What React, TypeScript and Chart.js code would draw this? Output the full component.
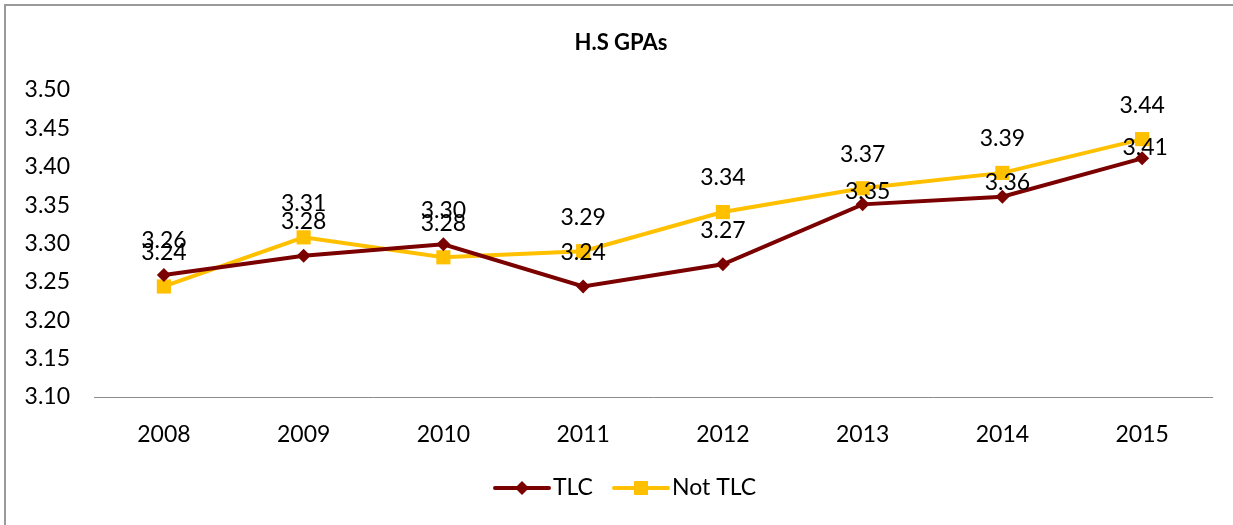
import React, { useEffect, useRef } from "react";
import { Chart, registerables } from "chart.js";

Chart.register(...registerables);

const categories = ["2008", "2009", "2010", "2011", "2012", "2013", "2014", "2015"];
const tlcValues = [3.259, 3.284, 3.299, 3.244, 3.273, 3.351, 3.361, 3.411];
const notTlcValues = [3.244, 3.308, 3.282, 3.29, 3.341, 3.372, 3.392, 3.436];
const seriesNames = ["TLC", "Not TLC"];
const titleText = "H.S GPAs";

const FONT = "Lato, 'Open Sans', sans-serif";
const TLC_COLOR = "#7B0000";
const NOT_COLOR = "#FFC000";

// label placement tweaks (dataset index -> point index -> [dx, dy])
const LABEL_ADJUST: Record<number, Record<number, [number, number]>> = {
  0: { 5: [5, -13], 6: [5, -14], 7: [3, -11] },
};

const extrasPlugin = {
  id: "extras",
  afterDraw(chart: any) {
    const ctx = chart.ctx;
    ctx.save();
    // border (top & left visible)
    ctx.strokeStyle = "#9a9a9a";
    ctx.lineWidth = 2;
    ctx.beginPath();
    ctx.moveTo(5, 530);
    ctx.lineTo(5, 5);
    ctx.lineTo(1240, 5);
    ctx.stroke();

    // title
    ctx.fillStyle = "#000";
    ctx.font = "bold 22px " + FONT;
    ctx.textAlign = "center";
    ctx.textBaseline = "middle";
    ctx.fillText(titleText, 621, 43);

    // data labels
    ctx.font = "23px " + FONT;
    ctx.textBaseline = "middle";
    chart.data.datasets.forEach((ds: any, i: number) => {
      const meta = chart.getDatasetMeta(i);
      meta.data.forEach((pt: any, j: number) => {
        const v = ds.data[j] as number;
        const adj = (LABEL_ADJUST[i] && LABEL_ADJUST[i][j]) || [0, -34];
        ctx.fillText(v.toFixed(2), pt.x + adj[0], pt.y + adj[1]);
      });
    });

    // legend
    const ly = 488;
    const items = [
      { x: 495, color: TLC_COLOR, style: "diamond", label: seriesNames[0] },
      { x: 614, color: NOT_COLOR, style: "square", label: seriesNames[1] },
    ];
    items.forEach((it) => {
      ctx.strokeStyle = it.color;
      ctx.lineWidth = 4;
      ctx.lineCap = "round";
      ctx.beginPath();
      ctx.moveTo(it.x, ly);
      ctx.lineTo(it.x + 54, ly);
      ctx.stroke();
      ctx.fillStyle = it.color;
      const cx = it.x + 27;
      if (it.style === "diamond") {
        ctx.beginPath();
        ctx.moveTo(cx, ly - 7);
        ctx.lineTo(cx + 7, ly);
        ctx.lineTo(cx, ly + 7);
        ctx.lineTo(cx - 7, ly);
        ctx.closePath();
        ctx.fill();
      } else {
        ctx.fillRect(cx - 7, ly - 7, 14, 14);
      }
      ctx.fillStyle = "#000";
      ctx.textAlign = "left";
      ctx.font = "23px " + FONT;
      ctx.fillText(it.label, it.x + 58, ly);
    });
    ctx.restore();
  },
};

export default function App() {
  const ref = useRef<HTMLCanvasElement>(null);
  useEffect(() => {
    if (!ref.current) return;
    const chart = new Chart(ref.current, {
      type: "line",
      data: {
        labels: categories,
        datasets: [
          {
            label: seriesNames[0],
            data: tlcValues,
            borderColor: TLC_COLOR,
            backgroundColor: TLC_COLOR,
            borderWidth: 4,
            pointStyle: "rectRot",
            pointRadius: 7,
            pointBorderWidth: 0,
            tension: 0,
          },
          {
            label: seriesNames[1],
            data: notTlcValues,
            borderColor: NOT_COLOR,
            backgroundColor: NOT_COLOR,
            borderWidth: 4,
            pointStyle: "rect",
            pointRadius: 10,
            pointBorderWidth: 0,
            tension: 0,
          },
        ],
      },
      options: {
        animation: false,
        responsive: false,
        maintainAspectRatio: false,
        layout: { padding: { left: 14, right: 21, top: 90, bottom: 68 } },
        plugins: {
          legend: { display: false },
          title: { display: false },
          tooltip: { enabled: false },
        },
        scales: {
          x: {
            offset: true,
            grid: { display: false, drawTicks: false, offset: true },
            border: { display: true, color: "#8c8c8c", width: 1 },
            ticks: {
              padding: 24,
              color: "#000",
              font: { family: FONT, size: 23 },
              maxRotation: 0,
            },
            afterFit(scale: any) {
              scale.height = 60;
            },
          },
          y: {
            min: 3.1,
            max: 3.5,
            grid: { display: false, drawTicks: false },
            border: { display: false },
            ticks: {
              stepSize: 0.05,
              padding: 24,
              color: "#000",
              font: { family: FONT, size: 23 },
              callback: (v: any) => Number(v).toFixed(2),
            },
            afterFit(scale: any) {
              scale.width = 80;
            },
          },
        },
      },
      plugins: [extrasPlugin],
    });
    return () => chart.destroy();
  }, []);
  return (
    <div style={{ position: "absolute", left: 0, top: 0, width: 1233, height: 525, background: "#fff" }}>
      <canvas ref={ref} width={1233} height={525} style={{ display: "block" }} />
    </div>
  );
}
